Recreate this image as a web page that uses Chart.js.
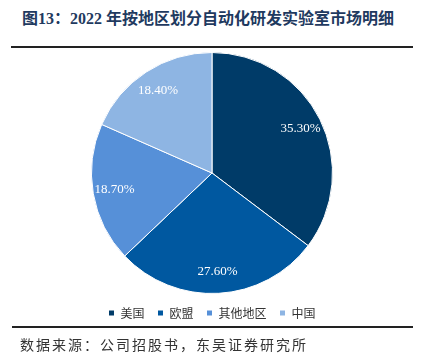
<!DOCTYPE html>
<html><head><meta charset="utf-8">
<script src="https://cdn.jsdelivr.net/npm/chart.js@4/dist/chart.umd.min.js"></script>
<style>
html,body{margin:0;padding:0;background:#fff;width:430px;height:364px;overflow:hidden;position:relative}
#title{position:absolute;left:22px;top:5px;font-family:"Liberation Serif","Noto Sans CJK SC",serif;font-weight:bold;font-size:16px;color:#1f3a60;white-space:nowrap}
#line1{position:absolute;left:11px;top:46px;width:402px;height:2px;background:#222}
#line2{position:absolute;left:12px;top:326px;width:401px;height:2px;background:#222}
#src{position:absolute;left:20px;top:334px;font-family:"Noto Sans CJK SC",sans-serif;font-size:14px;color:#333;white-space:nowrap;letter-spacing:2px}
#wrap{position:absolute;left:0;top:52px;width:430px;height:277px}
</style></head><body>
<div id="title">图13：2022 年按地区划分自动化研发实验室市场明细</div>
<div id="line1"></div>
<div id="wrap"><canvas id="c"></canvas></div>
<div id="line2"></div>
<div id="src">数据来源：公司招股书，东吴证券研究所</div>
<script>
const categories = ["美国","欧盟","其他地区","中国"];
const shares = [35.3, 27.6, 18.7, 18.4];
const colors = ["#003b68","#0058a0","#5690d8","#8eb5e3"];

const labelPlugin = {
  id:'sliceLabels',
  afterDatasetsDraw(chart){
    const ctx = chart.ctx;
    const meta = chart.getDatasetMeta(0);
    ctx.save();
    ctx.font = '13px "Liberation Serif", serif';
    ctx.fillStyle = '#ffffff';
    ctx.textAlign = 'center';
    ctx.textBaseline = 'middle';
    meta.data.forEach((arc,i)=>{
      const p = arc.getProps(['x','y','startAngle','endAngle','outerRadius'],true);
      const mid = (p.startAngle+p.endAngle)/2;
      const r = p.outerRadius*0.82;
      ctx.fillText(shares[i].toFixed(2)+'%', p.x+Math.cos(mid)*r, p.y+Math.sin(mid)*r);
    });
    ctx.restore();
  }
};

new Chart(document.getElementById('c'),{
  type:'pie',
  data:{labels:categories,datasets:[{data:shares,backgroundColor:colors,borderColor:'#ffffff',borderWidth:1}]},
  options:{
    responsive:true,maintainAspectRatio:false,animation:false,
    layout:{padding:{top:0,bottom:0,right:6}},
    plugins:{
      tooltip:{enabled:false},
      legend:{position:'bottom',labels:{boxWidth:6,boxHeight:6,padding:13,color:'#333',font:{family:'"Noto Sans CJK SC", sans-serif',size:12}}}
    }
  },
  plugins:[labelPlugin]
});
</script>
</body></html>
